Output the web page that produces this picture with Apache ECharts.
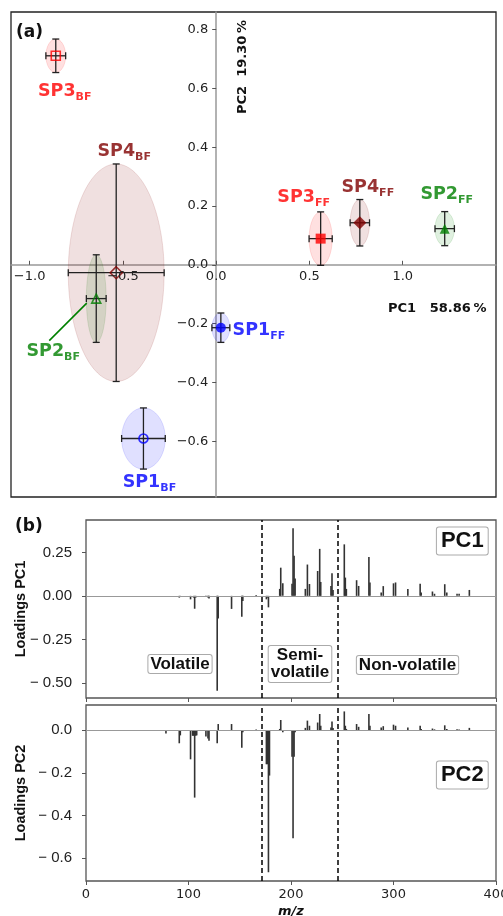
<!DOCTYPE html>
<html><head><meta charset="utf-8">
<script src="https://cdn.jsdelivr.net/npm/echarts@6/dist/echarts.min.js"></script>
<style>html,body{margin:0;padding:0;background:#fff}#c{width:503px;height:916px}</style>
</head><body><div id="c"></div>
<script>
// ---------- Panel (a): PCA scores ----------
const groups   = ['SP1', 'SP2', 'SP3', 'SP4', 'SP1', 'SP2', 'SP3', 'SP4'];
const subs     = ['BF', 'BF', 'BF', 'BF', 'FF', 'FF', 'FF', 'FF'];
const pc1Score = [-0.39, -0.643, -0.86, -0.536, 0.025, 1.225, 0.56, 0.77];
const pc2Score = [-0.591, -0.115, 0.711, -0.027, -0.214, 0.123, 0.089, 0.143];
const pc1Err   = [0.117, 0.053, 0.053, 0.257, 0.048, 0.052, 0.062, 0.052];
const pc2Err   = [0.104, 0.149, 0.057, 0.37, 0.05, 0.058, 0.091, 0.079];
const scoreXTicks = [-1.0, -0.5, 0.0, 0.5, 1.0];
const scoreYTicks = [-0.6, -0.4, -0.2, 0.0, 0.2, 0.4, 0.6, 0.8];
const pc1Title = 'PC1   58.86\u2009%';
const pc2Title = 'PC2  19.30\u2009%';

// ---------- Panel (b): loadings ----------
const mz = [78, 91, 92, 102, 104, 105, 106, 107, 108, 117, 119, 120, 128, 129, 142, 152, 153, 166,
  176, 177, 178, 179, 189, 190, 192, 201, 202, 203, 204, 214, 216, 218, 226, 228, 229, 239, 240, 241,
  252, 253, 254, 264, 266, 276, 277, 288, 290, 300, 302, 314, 326, 327, 338, 340, 350, 352, 362, 364, 374];
const loadPC1 = [0, -0.01, -0.005, -0.02, 0, -0.01, -0.074, -0.01, 0, -0.005, -0.01, -0.015, -0.545, -0.13,
  -0.075, -0.12, -0.03, 0.005, -0.02, -0.01, -0.066, 0, 0.04, 0.162, 0.072, 0.07, 0.388, 0.23, 0.10,
  0.04, 0.18, 0.068, 0.143, 0.27, 0.08, 0.057, 0.13, 0.034, 0.296, 0.105, 0.04, 0.09, 0.057, 0.224, 0.077,
  0.02, 0.056, 0.072, 0.077, 0.04, 0.07, 0.02, 0.025, 0.012, 0.067, 0.02, 0.012, 0.012, 0.034];
const loadPC2 = [-0.016, -0.062, -0.025, -0.137, -0.027, -0.027, -0.316, -0.027, -0.025, -0.03, -0.04, -0.05,
  -0.062, 0.028, 0.028, -0.083, -0.01, 0.003, -0.16, -0.16, -0.665, -0.213, 0.005, 0.047, -0.01, -0.125,
  -0.506, -0.125, -0.01, 0.01, 0.044, 0.02, 0.035, 0.075, 0.02, 0.012, 0.04, 0.01, 0.087, 0.02, 0.005,
  0.028, 0.015, 0.075, 0.02, 0.012, 0.018, 0.025, 0.02, 0.012, 0.02, 0.005, 0.007, 0.003, 0.022, 0.005,
  0.004, 0.003, 0.01];
const boundaries = [171, 246];
const mzTicks = [0, 100, 200, 300, 400];
const pc1LoadTicks = [-0.5, -0.25, 0, 0.25];
const pc2LoadTicks = [-0.6, -0.4, -0.2, 0];
const regionNames = ['Volatile', 'Semi-\nvolatile', 'Non-volatile'];

// ---------- styles ----------
const colorOf = {SP1: '#0000ff', SP2: '#008000', SP3: '#ff0000', SP4: '#800000'};
const fillOf = {SP1: 'rgba(0,0,255,0.12)', SP2: 'rgba(0,128,0,0.12)', SP3: 'rgba(255,0,0,0.12)', SP4: 'rgba(128,0,0,0.12)'};
const shapeOf = {SP1: 'circle', SP2: 'triangle', SP3: 'rect', SP4: 'diamond'};
const sizeOf = {SP1: 10, SP2: 10, SP3: 10, SP4: 13};
const labelOffsets = [[6, 44], [-43, 53], [9, 36], [8, -121], [38, 3], [2, -34], [-17, -41], [8, -35]];
const connector = {index: 1, from: [-9.5, 4.5], to: [-47, 42]};   // pixel offsets of the SP2_BF label guide

const chart = echarts.init(document.getElementById('c'), null, {renderer: 'canvas'});
const fontA = '13px "DejaVu Sans"';
const tickFontA = {fontFamily: 'DejaVu Sans', fontSize: 13, color: '#222'};
const tickFontB = {fontFamily: 'Liberation Sans', fontSize: 15, color: '#222'};
const fmtSpaced = (d) => (v) => (v < 0 ? '\u2212 ' + Math.abs(v).toFixed(d) : Math.abs(v).toFixed(d));
const fmtTight = (v) => (v < 0 ? '\u2212' : '') + Math.abs(v).toFixed(1);

const scoreRows = pc1Score.map((x, i) => [x, pc2Score[i], pc1Err[i], pc2Err[i], i]);

const scatterData = pc1Score.map((x, i) => {
  const g = groups[i], col = colorOf[g], filled = subs[i] === 'FF';
  return {
    value: [x, pc2Score[i]],
    symbol: shapeOf[g],
    symbolSize: filled ? sizeOf[g] : sizeOf[g] - 1,
    itemStyle: filled ? {color: col} : {color: 'rgba(255,255,255,0)', borderColor: col, borderWidth: 1.6},
    label: {
      show: true, position: 'inside', offset: labelOffsets[i],
      formatter: '{m|' + g + '}{s|' + subs[i] + '}',
      rich: {
        m: {fontFamily: 'DejaVu Sans', fontWeight: 'bold', fontSize: 17.5, color: col, lineHeight: 22},
        s: {fontFamily: 'DejaVu Sans', fontWeight: 'bold', fontSize: 11, color: col, lineHeight: 11, verticalAlign: 'bottom'}
      }
    }
  };
});

const markLinesB = {silent: true, symbol: ['none', 'none'], label: {show: false}, animation: false,
  data: [{yAxis: 0, lineStyle: {color: '#999', type: 'solid', width: 1}}]
    .concat(boundaries.map(v => ({xAxis: v, lineStyle: {color: '#000', type: [5, 3], width: 1.5}})))};

const gridBase = {show: true, containLabel: false, outerBoundsMode: 'none', borderWidth: 1.3};
const loadNameStyle = {fontFamily: 'Liberation Sans', fontWeight: 'bold', fontSize: 14.5, color: '#111'};
const option = {
  animation: false,
  backgroundColor: '#fff',
  grid: [
    Object.assign({left: 11, top: 12, width: 485, height: 485, borderColor: '#222'}, gridBase),
    Object.assign({left: 86, top: 520, width: 410, height: 178, borderColor: '#555'}, gridBase),
    Object.assign({left: 86, top: 705, width: 410, height: 176, borderColor: '#555'}, gridBase)
  ],
  xAxis: [
    {gridIndex: 0, type: 'value', min: -1.1, max: 1.5,
      axisLine: {onZero: true, lineStyle: {color: '#999', width: 1.5}},
      axisTick: {inside: true, length: 4, customValues: scoreXTicks, lineStyle: {color: '#555'}},
      axisLabel: {show: false}, splitLine: {show: false}},
    {gridIndex: 1, type: 'value', min: 0, max: 400, interval: 100,
      axisLine: {onZero: false, show: false},
      axisTick: {length: 4, lineStyle: {color: '#555'}},
      axisLabel: {show: false}, splitLine: {show: false}},
    {gridIndex: 2, type: 'value', min: 0, max: 400, interval: 100,
      axisLine: {onZero: false, show: false},
      axisTick: {length: 4, lineStyle: {color: '#555'}},
      axisLabel: Object.assign({margin: 7, customValues: mzTicks}, tickFontA),
      name: 'm/z', nameLocation: 'middle', nameGap: 24, nameMoveOverlap: false,
      nameTextStyle: {fontFamily: 'DejaVu Sans', fontWeight: 'bold', fontStyle: 'italic', fontSize: 13, color: '#111'},
      splitLine: {show: false}}
  ],
  yAxis: [
    {gridIndex: 0, type: 'value', min: -0.79, max: 0.86,
      axisLine: {onZero: true, lineStyle: {color: '#999', width: 1.5}},
      axisTick: {length: 4, customValues: scoreYTicks, lineStyle: {color: '#555'}},
      axisLabel: {show: false}, splitLine: {show: false}},
    {gridIndex: 1, type: 'value', min: -0.587, max: 0.436,
      axisLine: {show: false},
      axisTick: {length: 4, customValues: pc1LoadTicks, lineStyle: {color: '#555'}},
      axisLabel: Object.assign({margin: 14, customValues: pc1LoadTicks, formatter: fmtSpaced(2)}, tickFontB),
      name: 'Loadings PC1', nameLocation: 'middle', nameGap: 58, nameMoveOverlap: false,
      nameTextStyle: loadNameStyle, splitLine: {show: false}},
    {gridIndex: 2, type: 'value', min: -0.706, max: 0.117,
      axisLine: {show: false},
      axisTick: {length: 4, customValues: pc2LoadTicks, lineStyle: {color: '#555'}},
      axisLabel: Object.assign({margin: 14, customValues: pc2LoadTicks, formatter: fmtSpaced(1)}, tickFontB),
      name: 'Loadings PC2', nameLocation: 'middle', nameGap: 58, nameMoveOverlap: false,
      nameTextStyle: loadNameStyle, splitLine: {show: false}}
  ],
  series: [
    { // confidence ellipses
      type: 'custom', xAxisIndex: 0, yAxisIndex: 0, z: 1, silent: true,
      data: scoreRows,
      renderItem: (params, api) => {
        const c = api.coord([api.value(0), api.value(1)]);
        const s = api.size([api.value(2), api.value(3)]);
        const g = groups[api.value(4)];
        return {type: 'ellipse', shape: {cx: c[0], cy: c[1], rx: s[0], ry: s[1]},
          style: {fill: fillOf[g], stroke: fillOf[g], lineWidth: 1}};
      }
    },
    { // error bars (+ label guide for SP2_BF)
      type: 'custom', xAxisIndex: 0, yAxisIndex: 0, z: 2, silent: true,
      data: scoreRows,
      renderItem: (params, api) => {
        const x = api.value(0), y = api.value(1), ex = api.value(2), ey = api.value(3), i = api.value(4);
        const c = api.coord([x, y]);
        const l = api.coord([x - ex, y]), r = api.coord([x + ex, y]);
        const t = api.coord([x, y + ey]), b = api.coord([x, y - ey]);
        const cap = 3.5, st = {stroke: '#222', lineWidth: 1.3};
        const ln = (x1, y1, x2, y2, s) => ({type: 'line', shape: {x1, y1, x2, y2}, style: s || st});
        const children = [
          ln(l[0], l[1], r[0], r[1]),
          ln(l[0], l[1] - cap, l[0], l[1] + cap),
          ln(r[0], r[1] - cap, r[0], r[1] + cap),
          ln(t[0], t[1], b[0], b[1]),
          ln(t[0] - cap, t[1], t[0] + cap, t[1]),
          ln(b[0] - cap, b[1], b[0] + cap, b[1])
        ];
        if (i === connector.index) {
          children.push(ln(c[0] + connector.from[0], c[1] + connector.from[1], c[0] + connector.to[0], c[1] + connector.to[1],
            {stroke: colorOf[groups[i]], lineWidth: 1.6}));
        }
        return {type: 'group', children};
      }
    },
    { // markers
      type: 'scatter', xAxisIndex: 0, yAxisIndex: 0, z: 3, silent: true,
      data: scatterData
    },
    { // x tick labels of the score plot, placed along the y = 0 line
      type: 'custom', xAxisIndex: 0, yAxisIndex: 0, z: 4, silent: true, clip: false,
      data: scoreXTicks.map(v => [v, 0]),
      renderItem: (params, api) => {
        const c = api.coord([api.value(0), api.value(1)]);
        return {type: 'text', x: c[0], y: c[1] + 5,
          style: {text: fmtTight(api.value(0)), font: fontA, fill: '#222', align: 'center', verticalAlign: 'top'}};
      }
    },
    { // y tick labels of the score plot, placed along the x = 0 line
      type: 'custom', xAxisIndex: 0, yAxisIndex: 0, z: 4, silent: true, clip: false,
      data: scoreYTicks.map(v => [0, v]),
      renderItem: (params, api) => {
        const c = api.coord([api.value(0), api.value(1)]);
        return {type: 'text', x: c[0] - 8, y: c[1],
          style: {text: fmtTight(api.value(1)), font: fontA, fill: '#222', align: 'right', verticalAlign: 'middle'}};
      }
    },
    { // PC1 loadings
      type: 'bar', xAxisIndex: 1, yAxisIndex: 1, barWidth: 1.6, silent: true,
      itemStyle: {color: '#333'},
      data: mz.map((m, i) => [m, loadPC1[i]]),
      markLine: markLinesB
    },
    { // PC2 loadings
      type: 'bar', xAxisIndex: 2, yAxisIndex: 2, barWidth: 1.6, silent: true,
      itemStyle: {color: '#333'},
      data: mz.map((m, i) => [m, loadPC2[i]]),
      markLine: markLinesB
    }
  ],
  graphic: [
    {type: 'text', left: 16, top: 24, style: {text: '(a)', font: 'bold 17px "DejaVu Sans"', fill: '#111'}},
    {type: 'text', left: 15, top: 518, style: {text: '(b)', font: 'bold 17px "DejaVu Sans"', fill: '#111'}},
    {type: 'text', x: 243, y: 67, rotation: Math.PI / 2,
      style: {text: pc2Title, font: 'bold 13px "DejaVu Sans"', fill: '#111', align: 'center', verticalAlign: 'middle'}},
    {type: 'text', x: 388, y: 309,
      style: {text: pc1Title, font: 'bold 13px "DejaVu Sans"', fill: '#111', align: 'left', verticalAlign: 'middle'}},
    {type: 'text', x: 180, y: 664, style: {text: regionNames[0], font: 'bold 17px "Liberation Sans"', fill: '#111',
      align: 'center', verticalAlign: 'middle', backgroundColor: '#fff', borderColor: '#aaa', borderWidth: 1, borderRadius: 2, padding: [1, 2, 0, 2]}},
    {type: 'text', x: 300, y: 664, style: {text: regionNames[1], font: 'bold 17px "Liberation Sans"', fill: '#111', lineHeight: 17,
      align: 'center', verticalAlign: 'middle', backgroundColor: '#fff', borderColor: '#aaa', borderWidth: 1, borderRadius: 2, padding: [1, 2, 1, 2]}},
    {type: 'text', x: 407.5, y: 665, style: {text: regionNames[2], font: 'bold 17px "Liberation Sans"', fill: '#111',
      align: 'center', verticalAlign: 'middle', backgroundColor: '#fff', borderColor: '#aaa', borderWidth: 1, borderRadius: 2, padding: [1, 2, 0, 2]}},
    {type: 'text', x: 462.3, y: 541, style: {text: 'PC1', font: 'bold 22px "Liberation Sans"', fill: '#111',
      align: 'center', verticalAlign: 'middle', backgroundColor: '#fff', borderColor: '#aaa', borderWidth: 1, borderRadius: 2, padding: [3, 4, 2, 4]}},
    {type: 'text', x: 462.3, y: 775, style: {text: 'PC2', font: 'bold 22px "Liberation Sans"', fill: '#111',
      align: 'center', verticalAlign: 'middle', backgroundColor: '#fff', borderColor: '#aaa', borderWidth: 1, borderRadius: 2, padding: [3, 4, 2, 4]}}
  ]
};
chart.setOption(option);
</script></body></html>
